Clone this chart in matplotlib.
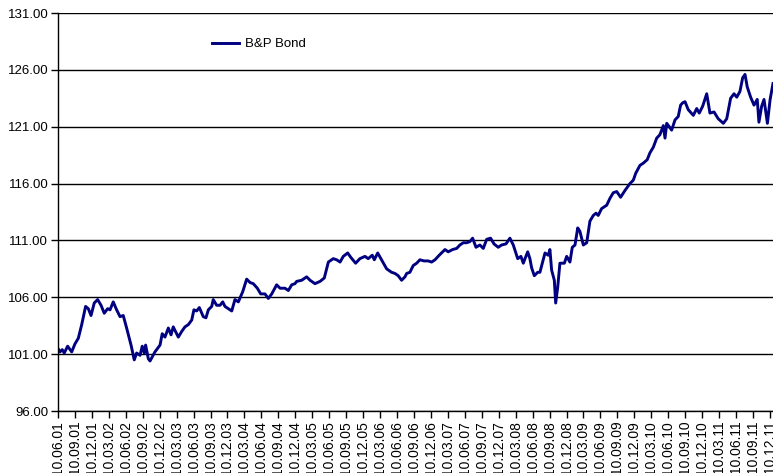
import matplotlib.pyplot as plt
import pandas as pd

# quarters since 10.06.01 (tick every 3 months) and index value
quarters = [0.00, 0.12, 0.25, 0.37, 0.57, 0.81, 1.00, 1.20, 1.40, 1.63, 1.79, 1.95,
            2.14, 2.34, 2.54, 2.73, 2.93, 3.07, 3.26, 3.46, 3.66, 3.85, 4.05, 4.31,
            4.50, 4.64, 4.84, 4.97, 5.09, 5.17, 5.33, 5.43, 5.72, 6.02, 6.15, 6.31,
            6.51, 6.67, 6.80, 6.90, 7.10, 7.30, 7.49, 7.69, 7.89, 8.02, 8.18, 8.34,
            8.57, 8.73, 8.87, 9.07, 9.16, 9.36, 9.56, 9.72, 9.85, 10.05, 10.25, 10.44,
            10.64, 10.90, 11.13, 11.33, 11.52, 11.76, 11.96, 12.21, 12.41, 12.61, 12.90, 13.10,
            13.39, 13.59, 13.79, 13.98, 14.08, 14.38, 14.67, 14.87, 15.16, 15.46, 15.71, 15.95,
            16.24, 16.44, 16.64, 16.83, 17.09, 17.28, 17.56, 17.81, 18.11, 18.30, 18.54, 18.66,
            18.86, 19.09, 19.39, 19.68, 19.88, 20.07, 20.27, 20.47, 20.57, 20.76, 20.96, 21.16,
            21.35, 21.59, 21.84, 22.04, 22.24, 22.49, 22.69, 22.83, 23.02, 23.28, 23.52, 23.71,
            23.91, 24.11, 24.30, 24.46, 24.66, 24.89, 25.09, 25.29, 25.52, 25.72, 25.97, 26.17,
            26.43, 26.66, 26.86, 27.06, 27.12, 27.31, 27.45, 27.55, 27.71, 27.84, 27.94, 28.10,
            28.30, 28.43, 28.57, 28.73, 28.92, 29.02, 29.12, 29.28, 29.36, 29.48, 29.61, 29.75,
            29.87, 30.01, 30.20, 30.34, 30.50, 30.66, 30.79, 30.99, 31.19, 31.38, 31.58, 31.74,
            31.87, 32.07, 32.37, 32.56, 32.76, 32.96, 33.19, 33.45, 33.74, 33.94, 34.08, 34.33,
            34.53, 34.76, 34.92, 35.12, 35.32, 35.51, 35.71, 35.81, 35.91, 36.06, 36.20, 36.40,
            36.59, 36.73, 36.85, 36.99, 37.18, 37.48, 37.68, 37.83, 38.03, 38.27, 38.46, 38.70,
            38.95, 39.25, 39.45, 39.68, 39.88, 40.04, 40.23, 40.39, 40.53, 40.66, 40.86, 41.06,
            41.25, 41.35, 41.51, 41.65, 41.85, 42.01, 42.18]
bond = [101.5, 101.2, 101.4, 101.1, 101.7, 101.2, 101.9, 102.4, 103.6, 105.2, 105.0, 104.4,
        105.5, 105.8, 105.3, 104.6, 105.0, 104.9, 105.6, 104.9, 104.3, 104.4, 103.3, 101.8,
        100.5, 101.1, 100.9, 101.7, 101.1, 101.8, 100.6, 100.4, 101.2, 101.8, 102.8, 102.5,
        103.3, 102.7, 103.4, 103.1, 102.5, 103.0, 103.4, 103.6, 104.0, 104.9, 104.8, 105.1,
        104.3, 104.2, 104.9, 105.2, 105.8, 105.3, 105.3, 105.6, 105.2, 105.0, 104.8, 105.8,
        105.6, 106.5, 107.6, 107.3, 107.2, 106.8, 106.3, 106.3, 105.9, 106.3, 107.1, 106.8,
        106.8, 106.6, 107.1, 107.2, 107.4, 107.5, 107.8, 107.5, 107.2, 107.4, 107.7, 109.1,
        109.4, 109.3, 109.1, 109.6, 109.9, 109.5, 109.0, 109.4, 109.6, 109.4, 109.7, 109.3,
        109.9, 109.3, 108.5, 108.2, 108.1, 107.9, 107.5, 107.8, 108.1, 108.2, 108.8, 109.0,
        109.3, 109.2, 109.2, 109.1, 109.3, 109.7, 110.0, 110.2, 110.0, 110.2, 110.3, 110.6,
        110.8, 110.8, 110.9, 111.2, 110.4, 110.6, 110.3, 111.1, 111.2, 110.7, 110.4, 110.6,
        110.7, 111.2, 110.6, 109.7, 109.4, 109.6, 109.0, 109.4, 110.0, 109.4, 108.6, 107.9,
        108.2, 108.2, 109.0, 109.9, 109.7, 110.2, 108.4, 107.5, 105.5, 106.9, 109.0, 109.0,
        109.0, 109.6, 109.1, 110.4, 110.6, 112.1, 111.8, 110.6, 110.8, 112.7, 113.2, 113.4,
        113.2, 113.8, 114.1, 114.7, 115.2, 115.3, 114.8, 115.4, 116.0, 116.3, 116.9, 117.6,
        117.8, 118.1, 118.7, 119.2, 120.0, 120.3, 121.1, 120.0, 121.3, 121.0, 120.7, 121.6,
        121.9, 122.9, 123.1, 123.2, 122.5, 122.0, 122.6, 122.2, 122.8, 123.9, 122.2, 122.3,
        121.7, 121.3, 121.7, 123.5, 123.9, 123.6, 124.1, 125.3, 125.6, 124.5, 123.6, 122.9,
        123.4, 121.4, 122.8, 123.4, 121.3, 123.4, 124.8]

tick_dates = pd.date_range('2001-06-01', '2011-12-01', freq='3MS') + pd.Timedelta(days=9)
tick_labels = [d.strftime('%d.%m.%y') for d in tick_dates]
y_ticks = [96, 101, 106, 111, 116, 121, 126, 131]

plt.rcParams['font.family'] = ['Liberation Sans', 'DejaVu Sans']

fig = plt.figure(figsize=(7.73, 4.73), dpi=100)
ax = fig.add_axes([0.075, 0.131, 0.925, 0.8415])

ax.plot(quarters, bond, color='#000080', linewidth=2.1, label='B&P Bond')

ax.set_ylim(96, 131)
ax.set_yticks(y_ticks)
ax.set_yticklabels(['%.2f' % v for v in y_ticks], fontsize=9.5)
ax.set_xlim(0, 42.18)
ax.set_xticks(range(len(tick_labels)))
ax.set_xticklabels(tick_labels, rotation=90, fontsize=10, va='top')

ax.yaxis.grid(True, color='black', linewidth=1)
ax.set_axisbelow(True)
ax.tick_params(axis='both', direction='out', length=5, width=1, color='black', pad=2)
for s in ['top', 'right']:
    ax.spines[s].set_visible(False)
ax.spines['left'].set_linewidth(1)
ax.spines['bottom'].set_linewidth(1)

ax.legend(loc='center left', bbox_to_anchor=(0.215, 0.922), frameon=False,
          fontsize=9.5, handlelength=2.1, handletextpad=0.4, borderpad=0, borderaxespad=0)

fig.savefig('out.png', dpi=100)
